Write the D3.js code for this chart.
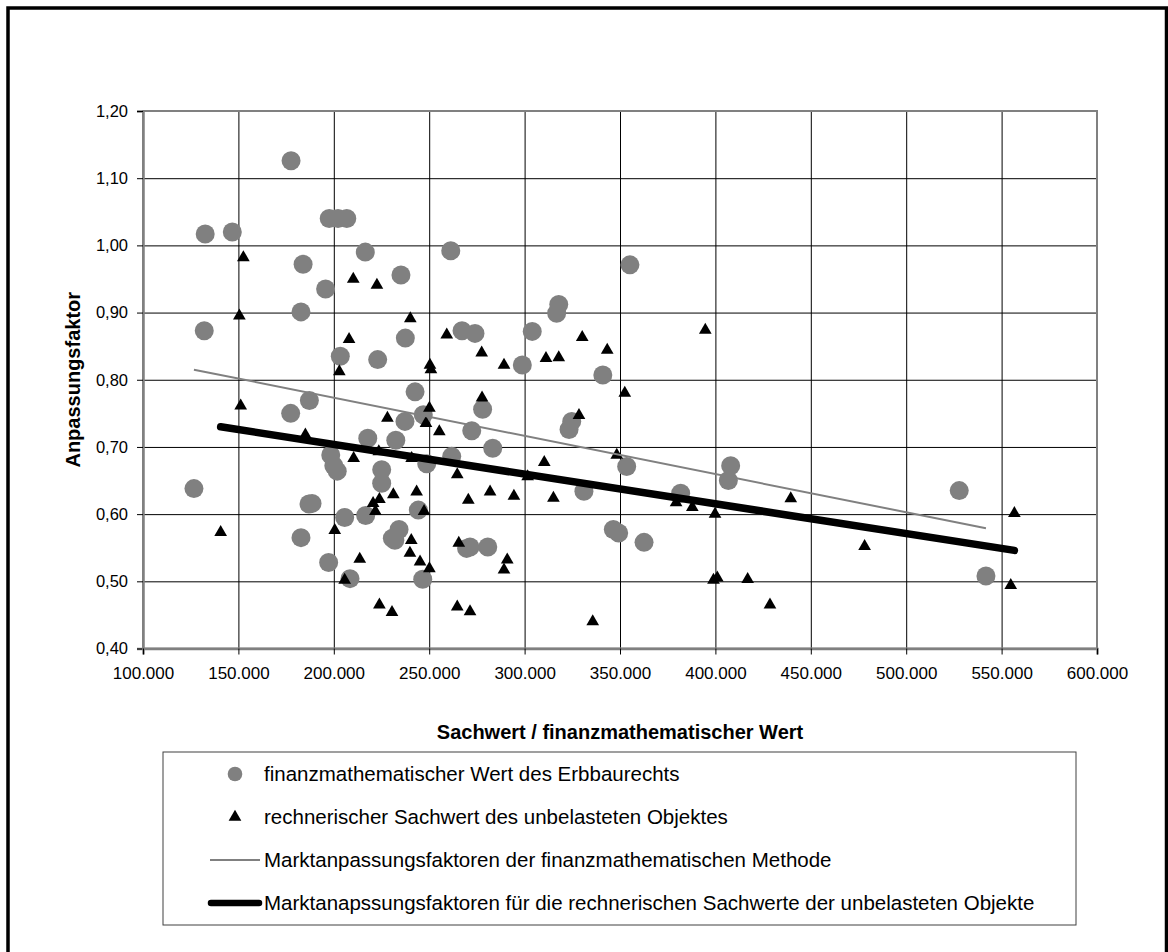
<!DOCTYPE html>
<html>
<head>
<meta charset="utf-8">
<script src="https://cdn.jsdelivr.net/npm/d3@7"></script>
<style>
  body { margin: 0; background: #fff; }
  text { font-family: "Liberation Sans", Arial, sans-serif; }
</style>
</head>
<body>
<div id="chart"></div>
<script>
/**
 * DATA
 * */
// finanzmathematischer Wert des Erbbaurechts (grey circles)
const finX = [126700, 132600, 132100, 146800, 177600, 177400, 182800, 183900, 182800, 187200,
  187000, 188600, 195700, 197300, 197600, 202200, 206800, 198400, 200000, 201800,
  203400, 205700, 208500, 216500, 216700, 217800, 223000, 225100, 225100, 230700,
  234200, 232000, 232500, 235200, 237300, 237500, 242600, 244300, 246600, 246900,
  248700, 261300, 261800, 267200, 274000, 269600, 271400, 272300, 278000, 280700,
  283300, 298800, 304000, 317900, 316800, 323300, 324700, 331100, 341000, 346500,
  349300, 353500, 355200, 362600, 381800, 406800, 408000, 527800, 541800];
const finY = [0.638, 1.017, 0.873, 1.020, 1.126, 0.750, 0.901, 0.972, 0.565, 0.769,
  0.615, 0.616, 0.935, 0.528, 1.040, 1.040, 1.040, 0.688, 0.672, 0.664,
  0.835, 0.595, 0.504, 0.990, 0.598, 0.713, 0.830, 0.666, 0.646, 0.564,
  0.577, 0.561, 0.710, 0.956, 0.738, 0.862, 0.782, 0.606, 0.503, 0.748,
  0.675, 0.992, 0.686, 0.873, 0.869, 0.549, 0.551, 0.724, 0.756, 0.551,
  0.698, 0.822, 0.872, 0.912, 0.899, 0.726, 0.738, 0.634, 0.807, 0.577,
  0.572, 0.671, 0.971, 0.558, 0.631, 0.650, 0.672, 0.635, 0.508];

// rechnerischer Sachwert des unbelasteten Objektes (black triangles)
const sachX = [140700, 150500, 151200, 152600, 185100, 200500, 202900, 205700, 208000, 210200,
  210400, 213600, 220600, 221800, 223900, 222600, 223900, 223600, 228100, 230500,
  231200, 239900, 240600, 240100, 240800, 243400, 245200, 247300, 248300, 250100,
  250400, 250900, 250100, 255300, 259200, 264700, 265500, 264700, 270500, 271400,
  277500, 277700, 281900, 289200, 289200, 290900, 294400, 301600, 310300, 311200,
  315100, 317900, 328500, 330200, 335700, 343300, 348300, 352500, 379400, 387900,
  394700, 399800, 399000, 401000, 416900, 428600, 439500, 478200, 554800, 556700];
const sachY = [0.573, 0.895, 0.761, 0.982, 0.718, 0.576, 0.812, 0.502, 0.860, 0.950,
  0.683, 0.533, 0.616, 0.604, 0.622, 0.941, 0.465, 0.693, 0.743, 0.454,
  0.629, 0.542, 0.561, 0.891, 0.683, 0.633, 0.529, 0.604, 0.735, 0.758,
  0.822, 0.815, 0.519, 0.723, 0.867, 0.659, 0.557, 0.462, 0.621, 0.455,
  0.840, 0.773, 0.633, 0.822, 0.517, 0.532, 0.627, 0.656, 0.677, 0.832,
  0.624, 0.833, 0.747, 0.863, 0.440, 0.844, 0.688, 0.780, 0.617, 0.610,
  0.874, 0.600, 0.502, 0.505, 0.503, 0.465, 0.623, 0.552, 0.494, 0.601];

// trend lines (end points)
const trendFinX = [126700, 541800];
const trendFinY = [0.815, 0.579];
const trendSachX = [140700, 556700];
const trendSachY = [0.730, 0.546];

const xTicks = [100000, 150000, 200000, 250000, 300000, 350000, 400000, 450000, 500000, 550000, 600000];
const yTicks = [0.40, 0.50, 0.60, 0.70, 0.80, 0.90, 1.00, 1.10, 1.20];

const legendLabels = [
  "finanzmathematischer Wert des Erbbaurechts",
  "rechnerischer Sachwert des unbelasteten Objektes",
  "Marktanpassungsfaktoren der finanzmathematischen Methode",
  "Marktanapssungsfaktoren für die rechnerischen Sachwerte der unbelasteten Objekte"
];

/**
 * CONSTANTS
 * */
const width = 1168,
  height = 952,
  margin = { top: 111, left: 143, right: 71, bottom: 303.5 };
const innerW = width - margin.left - margin.right,
  innerH = height - margin.top - margin.bottom;

const de = d3.formatLocale({ decimal: ",", thousands: ".", grouping: [3], currency: ["", " €"] });

const svg = d3.select("#chart")
  .append("svg")
  .attr("width", width)
  .attr("height", height);

// outer frame
svg.append("rect")
  .attr("x", 8).attr("y", 8)
  .attr("width", 1158.5).attr("height", 1000)
  .attr("fill", "none").attr("stroke", "#000").attr("stroke-width", 3.5);

const x = d3.scaleLinear().domain([100000, 600000]).range([0, innerW]);
const y = d3.scaleLinear().domain([0.4, 1.2]).range([innerH, 0]);

const g = svg.append("g").attr("transform", `translate(${margin.left},${margin.top})`);

// grid
g.append("g")
  .attr("class", "grid")
  .call(d3.axisLeft(y).tickValues(yTicks).tickSize(-innerW).tickFormat(""))
  .call(s => s.select(".domain").remove())
  .call(s => s.selectAll("line").attr("stroke", "#000").attr("stroke-width", 1));
g.append("g")
  .attr("class", "grid")
  .attr("transform", `translate(0,${innerH})`)
  .call(d3.axisBottom(x).tickValues(xTicks).tickSize(-innerH).tickFormat(""))
  .call(s => s.select(".domain").remove())
  .call(s => s.selectAll("line").attr("stroke", "#000").attr("stroke-width", 1));

// plot border (grey)
g.append("rect")
  .attr("width", innerW).attr("height", innerH)
  .attr("fill", "none").attr("stroke", "#808080").attr("stroke-width", 2);

// axes
g.append("g")
  .call(d3.axisLeft(y).tickValues(yTicks).tickSize(6).tickPadding(9).tickFormat(de.format(".2f")))
  .call(s => s.select(".domain").attr("stroke", "#808080").attr("stroke-width", 2.5))
  .call(s => s.selectAll(".tick line").attr("stroke", "#000"))
  .call(s => s.selectAll("text").attr("font-size", 16.5).attr("fill", "#000")
    .attr("font-family", "Liberation Sans, Arial, sans-serif"));

g.append("g")
  .attr("transform", `translate(0,${innerH})`)
  .call(d3.axisBottom(x).tickValues(xTicks).tickSize(6).tickPadding(14).tickFormat(de.format(",.0f")))
  .call(s => s.select(".domain").attr("stroke", "#808080").attr("stroke-width", 2.5))
  .call(s => s.selectAll(".tick line").attr("stroke", "#000"))
  .call(s => s.selectAll("text").attr("font-size", 17).attr("fill", "#000")
    .attr("dy", "0.6em")
    .attr("font-family", "Liberation Sans, Arial, sans-serif"));

// axis titles
svg.append("text")
  .attr("x", margin.left + innerW / 2)
  .attr("y", 739)
  .attr("text-anchor", "middle")
  .attr("font-size", 20).attr("font-weight", "bold")
  .text("Sachwert / finanzmathematischer Wert");

svg.append("text")
  .attr("transform", `translate(80,${margin.top + innerH / 2}) rotate(-90)`)
  .attr("text-anchor", "middle")
  .attr("font-size", 20).attr("font-weight", "bold")
  .text("Anpassungsfaktor");

// circles
g.append("g")
  .selectAll("circle")
  .data(d3.zip(finX, finY))
  .join("circle")
  .attr("cx", d => x(d[0]))
  .attr("cy", d => y(d[1]))
  .attr("r", 9.5)
  .attr("fill", "#808080");

// triangles
const tri = d3.symbol().type(d3.symbolTriangle).size(70);
g.append("g")
  .selectAll("path")
  .data(d3.zip(sachX, sachY))
  .join("path")
  .attr("d", tri)
  .attr("transform", d => `translate(${x(d[0])},${y(d[1])})`)
  .attr("fill", "#000");

// trend lines
const line = d3.line().x(d => x(d[0])).y(d => y(d[1]));
g.append("path")
  .datum(d3.zip(trendFinX, trendFinY))
  .attr("d", line)
  .attr("fill", "none").attr("stroke", "#808080").attr("stroke-width", 2);
g.append("path")
  .datum(d3.zip(trendSachX, trendSachY))
  .attr("d", line)
  .attr("fill", "none").attr("stroke", "#000").attr("stroke-width", 7.5)
  .attr("stroke-linecap", "round");

// legend
const legend = svg.append("g");
legend.append("rect")
  .attr("x", 163).attr("y", 752)
  .attr("width", 913).attr("height", 173)
  .attr("fill", "#fff").attr("stroke", "#404040").attr("stroke-width", 1);

const rowY = [774, 817, 860, 903];
const item = legend.selectAll("g.item")
  .data(legendLabels)
  .join("g")
  .attr("class", "item")
  .attr("transform", (d, i) => `translate(0,${rowY[i]})`);

item.append("text")
  .attr("x", 264).attr("y", 7)
  .attr("font-size", 20.5)
  .text(d => d);

item.filter((d, i) => i === 0).append("circle")
  .attr("cx", 235).attr("r", 7.3).attr("fill", "#808080");
item.filter((d, i) => i === 1).append("path")
  .attr("d", d3.symbol().type(d3.symbolTriangle).size(70))
  .attr("transform", "translate(235,0)")
  .attr("fill", "#000");
item.filter((d, i) => i === 2).append("line")
  .attr("x1", 210).attr("x2", 260)
  .attr("stroke", "#808080").attr("stroke-width", 2);
item.filter((d, i) => i === 3).append("line")
  .attr("x1", 211).attr("x2", 259)
  .attr("stroke", "#000").attr("stroke-width", 6.5)
  .attr("stroke-linecap", "round");
</script>
</body>
</html>
